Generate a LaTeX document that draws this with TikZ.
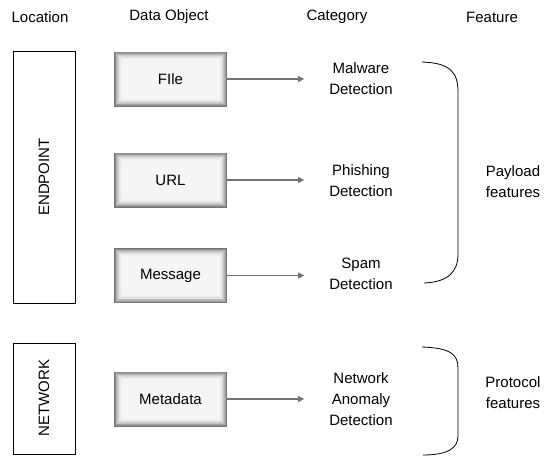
\documentclass[tikz,border=0pt]{standalone}
\usepackage{fontspec}
\setmainfont{Liberation Sans}
\usepackage{tikz}
\usetikzlibrary{calc,arrows.meta}
\tikzset{
	txt/.style={font=\fontsize{15}{21}\selectfont, align=center, inner sep=0pt},
	locbox/.style={draw=black, line width=0.8pt},
	objbox/.style={txt, minimum width=113pt, minimum height=55pt, fill=black!45,
		path picture={
			\foreach \i in {0,...,11}{
				\pgfmathsetmacro{\shd}{4+50*(1-\i/11)^2}
				\fill[black!\shd] ([shift={(\i*0.75pt,-\i*0.75pt)}]path picture bounding box.north west)
					rectangle ([shift={(-\i*0.75pt,\i*0.75pt)}]path picture bounding box.south east);
			}
		}},
	objarrow/.style={draw=black!55, line width=1.1pt, -{Triangle[length=6pt,width=6pt]}, shorten >=25pt},
	featbrace/.style={line width=0.8pt}
}

\begin{document}
\begin{tikzpicture}[x=1pt, y=-1pt]
		%%%%% START %%%%%
		\useasboundingbox (0,0) rectangle (547,456);
		
		% headers
		\node[txt] (hdrloc) at (40, 17) {Location};
		\node[txt] (hdrobj) at (169, 17) {Data Object};
		\node[txt] (hdrcat) at (337, 17) {Category};
		\node[txt] (hdrfeat) at (492, 17) {Feature};
		
		% locations
		\draw[locbox] (13, 51) rectangle (75, 303);
		\node[txt, rotate=90] (endpoint) at (44, 177) {ENDPOINT};
		\draw[locbox] (13, 343) rectangle (75, 454);
		\node[txt, rotate=90] (network) at (44, 398) {NETWORK};
		
		% data objects
		\node[objbox] (file) at (170.5, 79) {FIle};
		\node[objbox] (url) at (170.5, 180) {URL};
		\node[objbox] (msg) at (170.5, 275.5) {Message};
		\node[objbox] (meta) at (170.5, 399) {Metadata};
		
		% categories
		\node[txt] (malware) at (361, 78.5) {Malware\\Detection};
		\node[txt] (phishing) at (361, 180.5) {Phishing\\Detection};
		\node[txt] (spam) at (361, 274) {Spam\\Detection};
		\node[txt] (anomaly) at (361, 399) {Network\\Anomaly\\Detection};
		
		\draw[objarrow] (file.east) -- (file.east -| malware.west);
		\draw[objarrow] (url.east) -- (url.east -| phishing.west);
		\draw[objarrow] (msg.east) -- (msg.east -| spam.west);
		\draw[objarrow] (meta.east) -- (meta.east -| anomaly.west);
		
		% features
		\draw[featbrace] (422, 62) .. controls (450, 63) and (458, 72) .. (458, 92) -- (458, 254)
			.. controls (458, 272) and (448, 282) .. (424, 283);
		\node[txt] (payload) at (513, 182) {Payload\\features};
		
		\draw[featbrace] (422, 347) .. controls (450, 348) and (458, 354) .. (458, 368) -- (458, 436)
			.. controls (458, 448) and (448, 455) .. (423, 455);
		\node[txt] (protocol) at (513, 393) {Protocol\\features};
		%%%%% END %%%%%
	\end{tikzpicture}
\end{document}
